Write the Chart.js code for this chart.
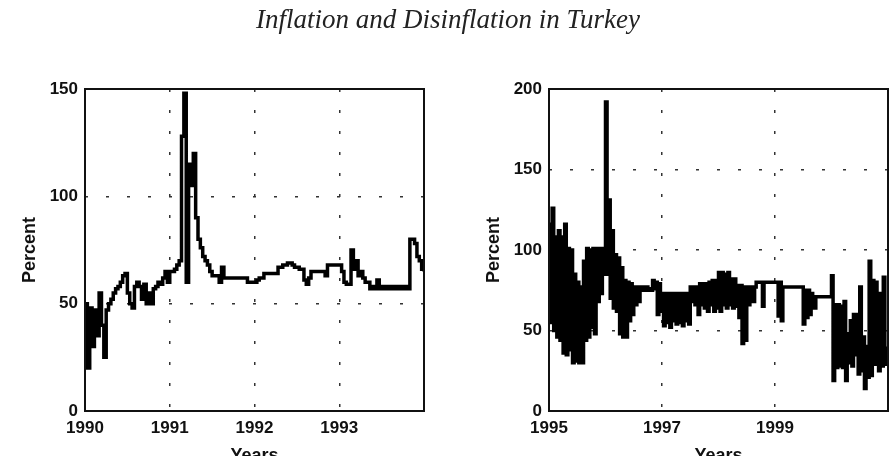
<!DOCTYPE html>
<html>
<head>
<meta charset="utf-8">
<script src="https://cdn.jsdelivr.net/npm/chart.js@4.4.1/dist/chart.umd.min.js"></script>
<style>
  html, body { margin: 0; padding: 0; background: #fff; overflow: hidden; }
  body { width: 896px; height: 456px; position: relative; }
  #title { position: absolute; top: 4px; left: 0; width: 896px; text-align: center;
    font: italic 27px "Liberation Serif", "DejaVu Serif", serif; color: #222; z-index: 2; }
  canvas { position: absolute; top: 0; }
  #left { left: 0; }
  #right { left: 448px; }
</style>
</head>
<body>
<div id="title">Inflation and Disinflation in Turkey</div>
<canvas id="left" width="448" height="470"></canvas>
<canvas id="right" width="448" height="470"></canvas>
<script>
// three readings a month
const perYear = 36;

const start90 = 1990;
const rate90 = [
  50, 20, 48,  30, 47, 35,  55, 40, 25,  47, 50, 52,  55, 57, 58,  60, 63, 64,
  55, 50, 48,  58, 60, 58,  52, 59, 50,  55, 50, 57,  58, 60, 59,  62, 65, 60,
  65, 65, 66,  68, 70, 128, 148, 60, 115, 105, 120, 90, 80, 76, 72, 70, 68, 65,
  63, 63, 63,  60, 67, 62,  62, 62, 62,  62, 62, 62,  62, 62, 62,  60, 60, 60,
  60, 61, 62,  62, 64, 64,  64, 64, 64,  64, 67, 67,  68, 68, 69,  69, 68, 67,
  67, 66, 66,  61, 59, 62,  65, 65, 65,  65, 65, 65,  63, 68, 68,  68, 68, 68,
  68, 65, 60,  59, 59, 75,  66, 70, 63,  65, 62, 60,  60, 57, 58,  57, 61, 57,
  58, 57, 58,  57, 58, 57,  58, 57, 58,  57, 58, 57,  80, 80, 78,  72, 70, 66,
  65
];
const xTicks90 = [1990, 1991, 1992, 1993];
const yTicks90 = [0, 50, 100, 150];

const start95 = 1995;
const rate95 = [
  116, 55, 126, 50, 108, 46, 112, 44, 108, 36, 116, 35, 101, 38, 100, 30, 85, 31,
  80, 30, 77,  30, 93, 44,  101, 46, 100, 52, 101, 48, 101, 68, 101, 73, 101, 85,
  192, 85, 131, 70, 112, 64, 97, 62, 95,  48, 89, 46,  81, 46, 80,  56, 79, 60,
  77, 66, 77,  68, 77, 75,  77, 75, 77,  75, 76, 75,  81, 76, 80,  60, 79, 62,
  73, 53, 73,  55, 73, 52,  73, 56, 73,  54, 73, 55,  73, 53, 73,  56, 73, 54,
  77, 68, 77,  66, 77, 60,  79, 66, 79,  64, 79, 62,  80, 66, 81,  62, 81, 64,
  86, 62, 86,  66, 85, 64,  86, 66, 82,  64, 82, 65,  78, 58, 78,  42, 77, 44,
  77, 66, 77,  77, 68, 77,  80, 80, 80,  80, 65, 80,  80, 80, 80,  80, 80, 80,
  80, 80, 59,  80, 56, 77,  77, 77, 77,  77, 77, 77,  77, 77, 77,  77, 77, 77,
  54, 75, 58,  75, 60, 73,  71, 64, 71,  71, 71, 71,  71, 71, 71,  71, 71, 71,
  84, 19, 66,  27, 66, 28,  65, 27, 68,  19, 48, 30,  56, 28, 60,  35, 60, 23,
  77, 25, 46,  14, 40, 21,  93, 22, 81,  29, 80, 44,  25, 73, 28,  83, 29, 40
];
const xTicks95 = [1995, 1997, 1999];
const yTicks95 = [0, 50, 100, 150, 200];

const frame = {
  id: 'frame',
  afterDraw(chart) {
    const { ctx, chartArea: a } = chart;
    ctx.save();
    ctx.strokeStyle = '#111';
    ctx.lineWidth = 2;
    ctx.strokeRect(a.left, a.top, a.right - a.left, a.bottom - a.top);
    ctx.restore();
  }
};

const tickFont = { family: '"Liberation Sans", Arial, sans-serif', size: 17, weight: 'bold' };
const titleFont = { family: '"Liberation Sans", Arial, sans-serif', size: 18, weight: 'bold' };
const grid = { color: '#333', lineWidth: 1.5, drawTicks: false };
const gridBorder = { display: false, dash: [3, 18] };

function makeChart(canvas, start, values, xTicks, yTicks, xMax, yMax, yWidth, padRight, yTitlePad) {
  const points = values.map((v, i) => ({ x: start + i / perYear, y: v }));
  return new Chart(canvas.getContext('2d'), {
    type: 'line',
    data: {
      datasets: [{
        data: points,
        borderColor: '#000',
        borderWidth: 3.5,
        pointRadius: 0,
        stepped: true,
        fill: false,
      }]
    },
    options: {
      responsive: false,
      animation: false,
      devicePixelRatio: 1,
      layout: { padding: { left: 0, right: padRight, top: 89, bottom: 0 } },
      plugins: { legend: { display: false }, tooltip: { enabled: false } },
      scales: {
        x: {
          type: 'linear', min: start, max: xMax,
          afterBuildTicks: s => { s.ticks = xTicks.map(v => ({ value: v })); },
          afterFit: s => { s.height = 59; },
          grid, border: gridBorder,
          ticks: { font: tickFont, color: '#111', padding: 7, maxRotation: 0, callback: v => String(v) },
          title: { display: true, text: 'Years', font: titleFont, color: '#111', padding: { bottom: 3 } }
        },
        y: {
          min: 0, max: yMax,
          afterBuildTicks: s => { s.ticks = yTicks.map(v => ({ value: v })); },
          afterFit: s => { s.width = yWidth; },
          grid, border: gridBorder,
          ticks: { font: tickFont, color: '#111', padding: 7, callback: v => String(v) },
          title: { display: true, text: 'Percent', font: titleFont, color: '#111', padding: { top: yTitlePad } }
        }
      }
    },
    plugins: [frame]
  });
}

makeChart(document.getElementById('left'), start90, rate90, xTicks90, yTicks90, 1994, 150, 85, 24, 19);
makeChart(document.getElementById('right'), start95, rate95, xTicks95, yTicks95, 2001, 200, 101, 8, 35);
</script>
</body>
</html>
